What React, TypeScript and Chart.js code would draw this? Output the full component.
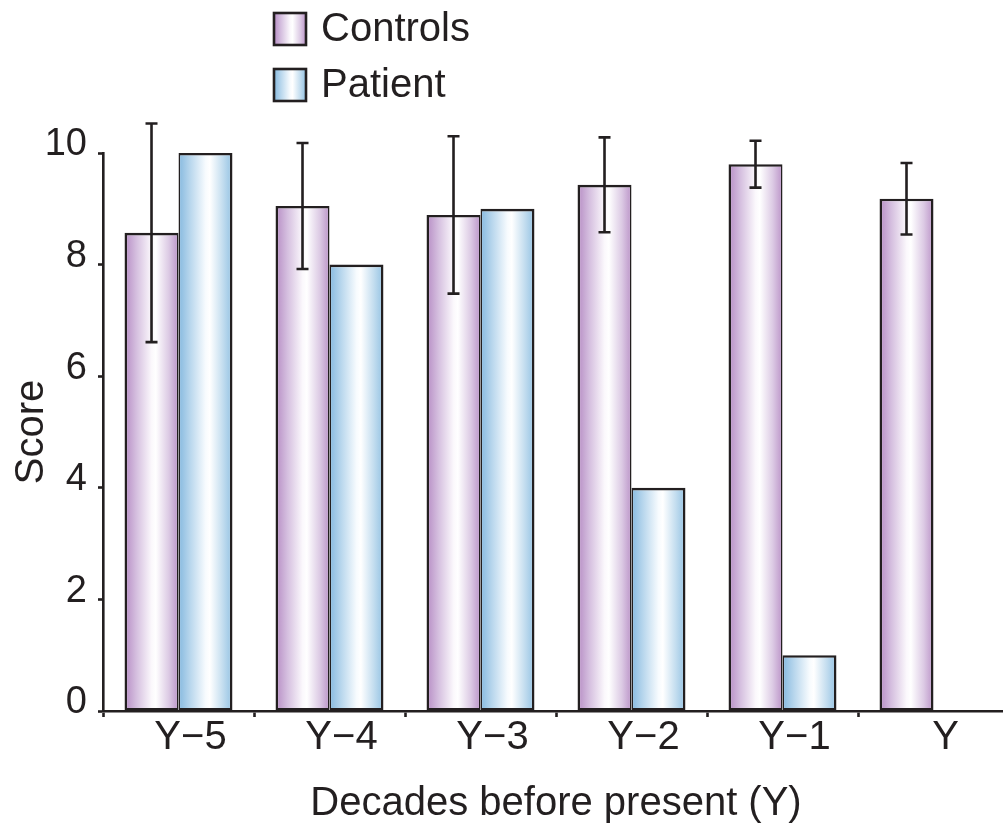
import React, { useEffect, useRef } from 'react';
import { Chart, registerables } from 'chart.js';

Chart.register(...registerables);

// ---- data ----
const categories = ['Y\u22125', 'Y\u22124', 'Y\u22123', 'Y\u22122', 'Y\u22121', 'Y'];
const controlsMean = [8.57, 9.05, 8.89, 9.43, 9.8, 9.18];
const controlsError = [1.96, 1.13, 1.41, 0.85, 0.42, 0.64];
const patientScores: (number | null)[] = [10, 8, 9, 4, 1, null];
const yTicks = [0, 2, 4, 6, 8, 10];
const seriesNames = ['Controls', 'Patient'];

// ---- style ----
const INK = '#231f20';
const FONT = '"Liberation Sans", Arial, Helvetica, sans-serif';
const purpleStops: [number, string][] = [
  [0, '#b68cc4'], [0.22, '#d5bfdf'], [0.5, '#fbf8fc'], [0.58, '#ffffff'], [0.82, '#dccae4'], [1, '#bb94c8'],
];
const blueStops: [number, string][] = [
  [0, '#86b9df'], [0.22, '#b9d7ed'], [0.5, '#f7fbfe'], [0.58, '#ffffff'], [0.82, '#c3ddef'], [1, '#93c2e3'],
];
const seriesStops = [purpleStops, blueStops];
const BW = 2.6;
const BW_SHARED = 1.6;

function makeGradient(ctx: CanvasRenderingContext2D, x0: number, x1: number, stops: [number, string][]) {
  const g = ctx.createLinearGradient(x0, 0, x1, 0);
  stops.forEach(([o, c]) => g.addColorStop(o, c));
  return g;
}

const gradientPlugin = {
  id: 'barGradient',
  beforeDatasetsDraw(chart: any) {
    const ctx = chart.ctx;
    chart.data.datasets.forEach((_: any, di: number) => {
      const meta = chart.getDatasetMeta(di);
      meta.data.forEach((el: any) => {
        const { x, width } = el.getProps(['x', 'width'], true);
        if (!isFinite(x) || !isFinite(width)) return;
        el.options.backgroundColor = makeGradient(ctx, x - width / 2, x + width / 2, seriesStops[di]);
      });
    });
  },
};

const errorBarPlugin = {
  id: 'errorBars',
  afterDatasetsDraw(chart: any) {
    const ctx = chart.ctx;
    const yScale = chart.scales.y;
    const meta = chart.getDatasetMeta(0);
    ctx.save();
    ctx.strokeStyle = INK;
    ctx.lineWidth = 2.6;
    meta.data.forEach((el: any, i: number) => {
      const { x } = el.getProps(['x'], true);
      const m = controlsMean[i];
      const e = controlsError[i];
      const yT = yScale.getPixelForValue(m + e);
      const yB = yScale.getPixelForValue(m - e);
      const cap = 6;
      ctx.beginPath();
      ctx.moveTo(x, yT);
      ctx.lineTo(x, yB);
      ctx.moveTo(x - cap, yT);
      ctx.lineTo(x + cap, yT);
      ctx.moveTo(x - cap, yB);
      ctx.lineTo(x + cap, yB);
      ctx.stroke();
    });
    ctx.restore();
  },
};

const legendPlugin = {
  id: 'customLegend',
  afterDraw(chart: any) {
    const ctx = chart.ctx;
    ctx.save();
    const boxX = 274;
    const boxW = 32;
    const boxH = 32;
    const rowsY = [29, 85];
    seriesNames.forEach((name, i) => {
      const cy = rowsY[i];
      const top = cy - boxH / 2;
      ctx.fillStyle = makeGradient(ctx, boxX, boxX + boxW, seriesStops[i]);
      ctx.fillRect(boxX, top, boxW, boxH);
      ctx.strokeStyle = INK;
      ctx.lineWidth = 2.6;
      ctx.strokeRect(boxX, top, boxW, boxH);
      ctx.fillStyle = INK;
      ctx.font = `40px ${FONT}`;
      ctx.textBaseline = 'middle';
      ctx.textAlign = 'left';
      ctx.fillText(name, 321, cy + 1);
    });
    ctx.restore();
  },
};

export default function App() {
  const ref = useRef<HTMLCanvasElement | null>(null);

  useEffect(() => {
    if (!ref.current) return;
    const chart = new Chart(ref.current, {
      type: 'bar',
      data: {
        labels: categories,
        datasets: [
          {
            label: seriesNames[0],
            data: controlsMean,
            backgroundColor: () => '#c9a9d4',
            borderColor: INK,
            borderWidth: (c: any) => ({
              top: BW,
              left: BW,
              bottom: BW,
              right: patientScores[c.dataIndex] != null ? BW_SHARED : BW,
            }),
            borderSkipped: false,
            categoryPercentage: 0.715,
            barPercentage: 1,
          },
          {
            label: seriesNames[1],
            data: patientScores,
            backgroundColor: () => '#a9cde8',
            borderColor: INK,
            borderWidth: { top: BW, left: BW_SHARED, bottom: BW, right: BW },
            borderSkipped: false,
            categoryPercentage: 0.715,
            barPercentage: 1,
          },
        ],
      },
      options: {
        responsive: false,
        animation: false,
        devicePixelRatio: 1,
        layout: { padding: { top: 153, right: 1, left: 0, bottom: 0 } },
        plugins: {
          legend: { display: false },
          tooltip: { enabled: false },
        },
        scales: {
          x: {
            offset: true,
            grid: {
              offset: true,
              drawOnChartArea: false,
              drawTicks: true,
              tickLength: 6,
              tickWidth: 2.6,
              tickColor: INK,
            },
            border: { display: true, color: INK, width: 2.6 },
            ticks: {
              color: INK,
              font: { family: FONT, size: 40, lineHeight: 1 },
              padding: 1,
              labelOffset: 12,
              maxRotation: 0,
              autoSkip: false,
            },
            title: {
              display: true,
              text: 'Decades before present (Y)',
              color: INK,
              font: { family: FONT, size: 40, lineHeight: 1.2 },
              padding: { top: 0, bottom: 6 },
            },
            afterFit: (s: any) => { s.height = 123; },
          },
          y: {
            min: 0,
            max: 10,
            afterBuildTicks: (s: any) => { s.ticks = yTicks.map((v) => ({ value: v })); },
            grid: {
              drawOnChartArea: false,
              drawTicks: true,
              tickLength: 5,
              tickWidth: 2.6,
              tickColor: INK,
            },
            border: { display: true, color: INK, width: 2.6 },
            ticks: {
              color: INK,
              font: { family: FONT, size: 38, lineHeight: 1 },
              padding: 11,
              labelOffset: -8,
            },
            title: {
              display: true,
              text: 'Score',
              color: INK,
              font: { family: FONT, size: 40, lineHeight: 1.2 },
              padding: { top: 8, bottom: 0 },
            },
            afterFit: (s: any) => { s.width = 103; },
          },
        },
      },
      plugins: [gradientPlugin, errorBarPlugin, legendPlugin],
    });
    return () => chart.destroy();
  }, []);

  return (
    <div
      style={{
        position: 'fixed',
        left: 0,
        top: 0,
        width: 1003,
        height: 834,
        overflow: 'hidden',
        background: '#ffffff',
      }}
    >
      <canvas ref={ref} width={1010} height={834} style={{ display: 'block' }} />
    </div>
  );
}
